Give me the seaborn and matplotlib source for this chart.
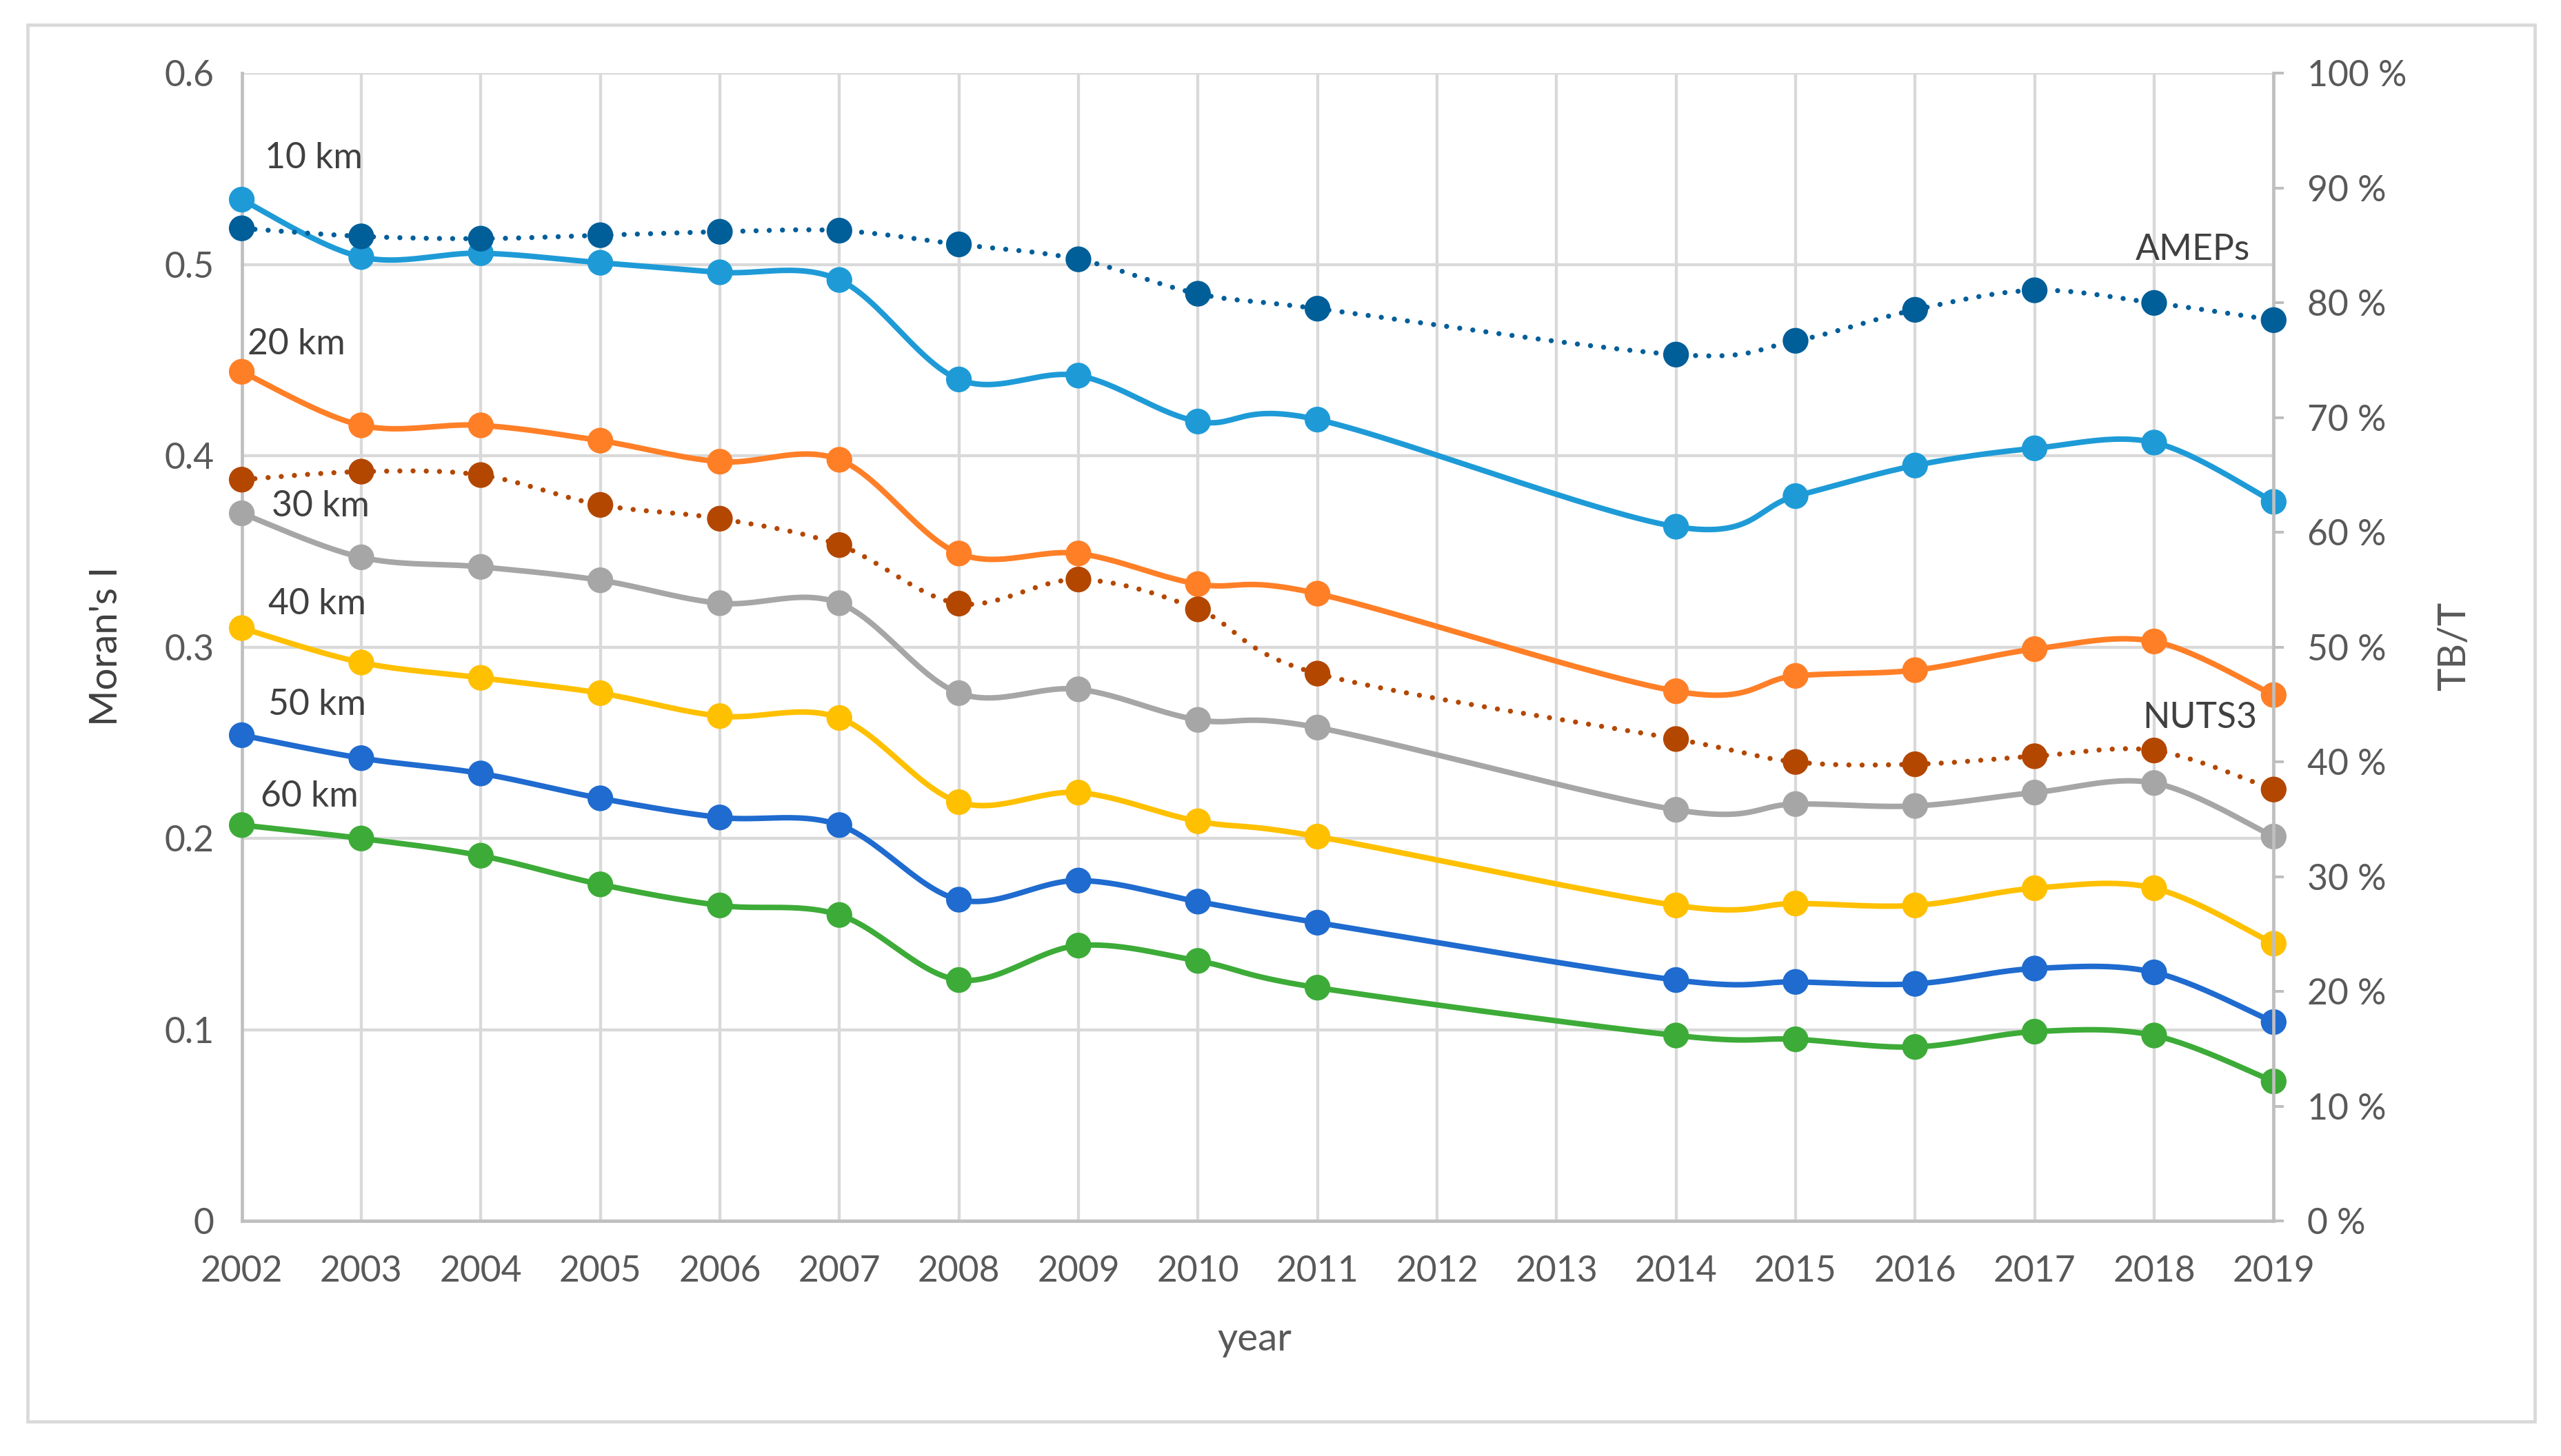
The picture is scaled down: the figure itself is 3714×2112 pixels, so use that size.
import numpy as np
import pandas as pd
import matplotlib
matplotlib.use("Agg")
import matplotlib.pyplot as plt
from matplotlib.patches import Rectangle
import seaborn as sns

# data (2012 and 2013 have no values)
years = [2002, 2003, 2004, 2005, 2006, 2007, 2008, 2009, 2010, 2011,
         2014, 2015, 2016, 2017, 2018, 2019]

km10 = [0.534, 0.504, 0.506, 0.501, 0.496, 0.492, 0.440, 0.442, 0.418, 0.419,
        0.363, 0.379, 0.395, 0.404, 0.407, 0.376]
km20 = [0.444, 0.416, 0.416, 0.408, 0.397, 0.398, 0.349, 0.349, 0.333, 0.328,
        0.277, 0.285, 0.288, 0.299, 0.303, 0.275]
km30 = [0.370, 0.347, 0.342, 0.335, 0.323, 0.323, 0.276, 0.278, 0.262, 0.258,
        0.215, 0.218, 0.217, 0.224, 0.229, 0.201]
km40 = [0.310, 0.292, 0.284, 0.276, 0.264, 0.263, 0.219, 0.224, 0.209, 0.201,
        0.165, 0.166, 0.165, 0.174, 0.174, 0.145]
km50 = [0.254, 0.242, 0.234, 0.221, 0.211, 0.207, 0.168, 0.178, 0.167, 0.156,
        0.126, 0.125, 0.124, 0.132, 0.130, 0.104]
km60 = [0.207, 0.200, 0.191, 0.176, 0.165, 0.160, 0.126, 0.144, 0.136, 0.122,
        0.097, 0.095, 0.091, 0.099, 0.097, 0.073]

# TB/T shares in percent (right axis)
ameps = [86.5, 85.8, 85.6, 85.9, 86.2, 86.3, 85.1, 83.8, 80.8, 79.5,
         75.5, 76.7, 79.4, 81.1, 80.0, 78.5]
nuts3 = [64.6, 65.3, 65.0, 62.4, 61.2, 58.9, 53.8, 55.9, 53.3, 47.7,
         42.0, 40.0, 39.8, 40.5, 41.0, 37.6]

moran_series = {"10 km": km10, "20 km": km20, "30 km": km30,
                "40 km": km40, "50 km": km50, "60 km": km60}
moran_colors = {"10 km": "#1E9BD7", "20 km": "#FF7F27", "30 km": "#A6A6A6",
                "40 km": "#FFC000", "50 km": "#1F6BCF", "60 km": "#3DAB38"}
share_series = {"AMEPs": ameps, "NUTS3": nuts3}
share_colors = {"AMEPs": "#005E99", "NUTS3": "#B34700"}

TXT = "#595959"
DARK = "#404040"
GRID = "#D9D9D9"
AXLINE = "#BFBFBF"


def smooth(xs, ys, n=30):
    # excel-like smoothed line: bezier segments with catmull-rom control points
    p = np.column_stack([xs, ys]).astype(float)
    p = np.vstack([p[0], p, p[-1]])
    out = []
    t = np.linspace(0, 1, n)[:, None]
    for i in range(1, len(p) - 2):
        p0, p1, p2, p3 = p[i - 1], p[i], p[i + 1], p[i + 2]
        c1 = p1 + (p2 - p0) / 6
        c2 = p2 - (p3 - p1) / 6
        seg = ((1 - t) ** 3) * p1 + 3 * ((1 - t) ** 2) * t * c1 \
            + 3 * (1 - t) * t ** 2 * c2 + t ** 3 * p2
        out.append(seg if i == 1 else seg[1:])
    out = np.vstack(out)
    return out[:, 0], out[:, 1]


sns.set_theme(style="white")
plt.rcParams["font.family"] = ["Lato", "DejaVu Sans"]

fig = plt.figure(figsize=(3714 / 240, 2112 / 240), dpi=240)
ax = fig.add_axes([0.0944, 0.1614, 0.7934, 0.7882])
ax2 = ax.twinx()

# outer chart border
fig.patches.append(Rectangle((0.0108, 0.0235), 0.979, 0.9595, transform=fig.transFigure,
                             fill=False, edgecolor=GRID, lw=1.4))

MS = 11.2
for name, vals in moran_series.items():
    sx, sy = smooth(years, vals)
    sns.lineplot(x=sx, y=sy, ax=ax, color=moran_colors[name], lw=2.4,
                 sort=False, estimator=None, zorder=3)
    sns.scatterplot(x=years, y=vals, ax=ax, color=moran_colors[name], s=MS ** 2,
                    edgecolor="none", linewidth=0, zorder=4, clip_on=False)

for name, vals in share_series.items():
    sx, sy = smooth(years, vals)
    sns.lineplot(x=sx, y=sy, ax=ax2, color=share_colors[name], lw=2.2,
                 sort=False, estimator=None, zorder=3,
                 linestyle=(0, (0.01, 2.6)), dash_capstyle="round")
    sns.scatterplot(x=years, y=vals, ax=ax2, color=share_colors[name], s=MS ** 2,
                    edgecolor="none", linewidth=0, zorder=4, clip_on=False)

# axes, ticks and grid
ax.set_xlim(2002, 2019)
ax.set_ylim(0, 0.6)
ax2.set_ylim(0, 100)
ax.set_xticks(range(2002, 2020))
ax.set_yticks(np.arange(0, 0.61, 0.1))
ax.set_yticklabels(["0", "0.1", "0.2", "0.3", "0.4", "0.5", "0.6"])
ax2.set_yticks(range(0, 101, 10))
ax2.set_yticklabels([f"{v} %" for v in range(0, 101, 10)])

ax.grid(True, color=GRID, lw=1.3)
ax2.grid(False)
ax.set_axisbelow(True)
ax.tick_params(axis="both", length=0, labelsize=15.5, labelcolor=TXT)
ax.tick_params(axis="x", pad=15)
ax.tick_params(axis="y", pad=12)
ax2.tick_params(axis="y", length=4.5, width=1.2, color=AXLINE, direction="out",
                labelsize=15.5, labelcolor=TXT, pad=10)

for a in (ax, ax2):
    a.spines["top"].set_visible(False)
    for side in ("left", "bottom", "right"):
        a.spines[side].set_color(AXLINE)
        a.spines[side].set_linewidth(1.4)
ax2.spines["left"].set_visible(False)
ax2.spines["bottom"].set_visible(False)
ax.spines["right"].set_visible(False)
ax.set_xlabel("")
ax.set_ylabel("")
ax2.set_ylabel("")

# series labels
label_pos = {"10 km": (2002.19, 0.5556), "20 km": (2002.05, 0.4583),
             "30 km": (2002.25, 0.3738), "40 km": (2002.22, 0.3226),
             "50 km": (2002.22, 0.2697), "60 km": (2002.16, 0.2219)}
for name, (lx, ly) in label_pos.items():
    ax.text(lx, ly, name, fontsize=15.5, color=DARK, ha="left", va="center", zorder=5)
ax2.text(2018.8, 84.6, "AMEPs", fontsize=15.5, color=DARK, ha="right", va="center", zorder=5)
ax2.text(2018.86, 43.8, "NUTS3", fontsize=15.5, color=DARK, ha="right", va="center", zorder=5)

# axis titles
fig.text(0.0415, 0.556, "Moran's I", rotation=90, fontsize=17, color=DARK,
         ha="center", va="center")
fig.text(0.9585, 0.556, "TB/T", rotation=90, fontsize=17, color=TXT,
         ha="center", va="center")
fig.text(0.4898, 0.0796, "year", fontsize=17, color=TXT, ha="center", va="center")

fig.savefig("out.png", dpi=240, facecolor="white")
